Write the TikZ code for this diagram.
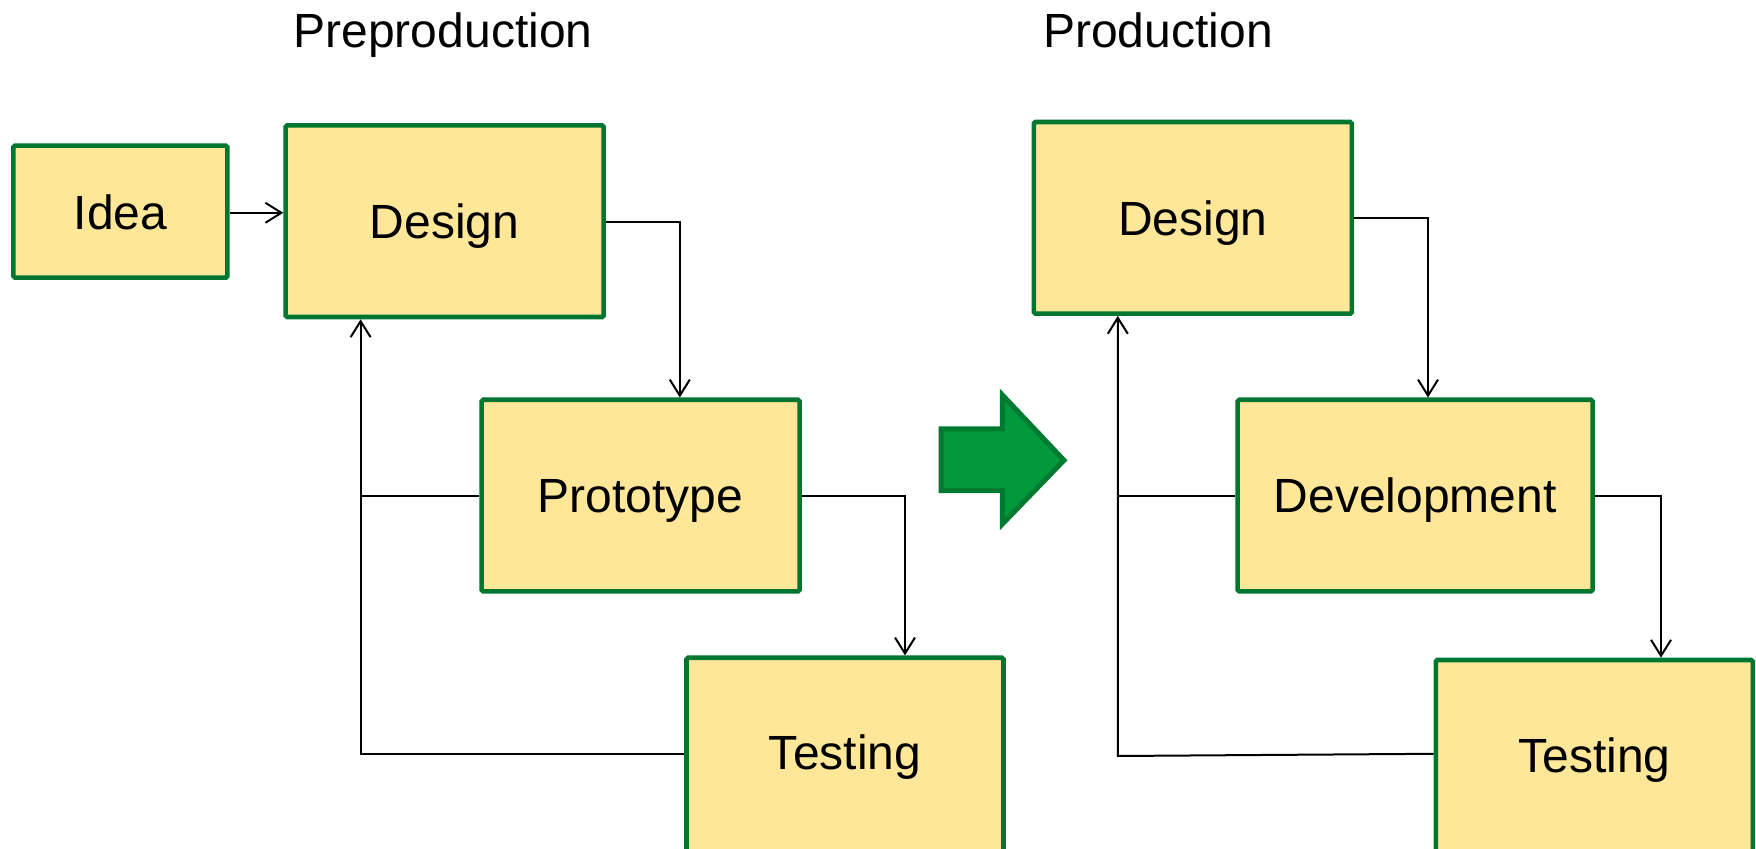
\documentclass[tikz,border=0pt]{standalone}
\usepackage{fontspec}
\setmainfont{Liberation Sans}
\usetikzlibrary{arrows.meta}
\definecolor{boxfill}{RGB}{255,231,153}
\definecolor{boxline}{RGB}{0,118,48}
\definecolor{arrowfill}{RGB}{0,154,60}
\definecolor{arrowline}{RGB}{0,122,48}
\tikzset{
  stagebox/.style={draw=boxline, fill=boxfill, line width=2.3pt, rounded corners=0.8pt,
    inner sep=0pt, text depth=0pt, font=\fontsize{24}{28}\selectfont},
  flow/.style={line width=1pt, -{Straight Barb[length=8pt,width=10pt,line width=1pt]}},
  link/.style={line width=1pt},
  heading/.style={font=\fontsize{24}{28}\selectfont, anchor=base, inner sep=0pt},
  boxtext/.style={font=\fontsize{24}{28}\selectfont, inner sep=0pt, text depth=0pt}
}
\begin{document}
\begin{tikzpicture}[x=0.5pt,y=-0.5pt]
\useasboundingbox (0,0) rectangle (1756,849);
\clip (0,0) rectangle (1756,849);

% headings
\node[heading] (hpre) at (443,47.5) {Preproduction};
\node[heading] (hpro) at (1158,47.5) {Production};

% preproduction stages
\node[stagebox, minimum width=107pt, minimum height=66pt] (idea) at (120.4,211.7) {Idea};
\node[stagebox, minimum width=159pt, minimum height=95.8pt] (des1) at (444.6,221.2) {Design};
\node[stagebox, minimum width=159pt, minimum height=95.8pt] (proto) at (640.6,495.6) {Prototype};
\node[stagebox, minimum width=158.5pt, minimum height=97pt] (test1) at (845,754.7) {};
\node[boxtext] (test1t) at (845,752.6) {Testing};

% production stages
\node[stagebox, minimum width=159pt, minimum height=95.8pt] (des2) at (1192.8,217.8) {Design};
\node[stagebox, minimum width=177.5pt, minimum height=95.8pt] (dev) at (1415.1,495.6) {Development};
\node[stagebox, minimum width=158.5pt, minimum height=97pt] (test2) at (1594.3,757) {};
\node[boxtext] (test2t) at (1594.3,755.6) {Testing};

% connectors, preproduction
\coordinate (j1) at (679.8,221.8);
\coordinate (j2) at (360.6,496);
\coordinate (j3) at (360.6,753.8);
\coordinate (j4) at (905,496);
\draw[flow] (idea.east |- 0,212.8) -- (des1.west |- 0,212.8);
\draw[flow] (des1.east |- j1) -- (j1) -- (j1 |- proto.north);
\draw[link] (proto.west |- j2) -- (j2);
\draw[flow] (test1.west |- j3) -- (j3) -- (j3 |- des1.south);
\draw[flow] (proto.east |- j4) -- (j4) -- (j4 |- test1.north);

% connectors, production
\coordinate (k1) at (1428,218.4);
\coordinate (k2) at (1117.8,496);
\coordinate (k3) at (1117.8,756);
\coordinate (k4) at (1661,496);
\draw[flow] (des2.east |- k1) -- (k1) -- (k1 |- dev.north);
\draw[link] (dev.west |- k2) -- (k2);
\draw[flow] (test2.west |- 0,753.8) -- (k3) -- (k3 |- des2.south);
\draw[flow] (dev.east |- k4) -- (k4) -- (k4 |- test2.north);

% block arrow between the phases
\draw[fill=arrowfill, draw=arrowline, line width=2.5pt, miter limit=10]
  (941,429) -- (1002.4,429) -- (1002.4,395) -- (1064,460.3)
  -- (1002.4,524) -- (1002.4,490.6) -- (941,490.6) -- cycle;
\end{tikzpicture}
\end{document}
